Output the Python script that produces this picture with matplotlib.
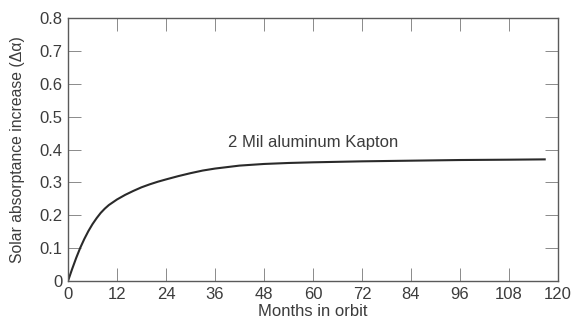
import matplotlib
matplotlib.use('Agg')
from matplotlib import pyplot as plt

# values
months = [0, 1, 2, 3, 4, 5, 6, 7, 8, 9, 10, 12, 14, 16, 18, 20, 22, 24, 27, 30, 33, 36,
          42, 48, 54, 60, 72, 84, 96, 108, 117]
delta_alpha = [0.0, 0.036, 0.070, 0.101, 0.128, 0.152, 0.173, 0.191, 0.207, 0.220, 0.231,
               0.248, 0.262, 0.274, 0.285, 0.294, 0.302, 0.309, 0.319, 0.328, 0.336, 0.342,
               0.351, 0.356, 0.359, 0.361, 0.364, 0.366, 0.368, 0.369, 0.370]
x_ticks = list(range(0, 121, 12))
y_ticks = [0, 0.1, 0.2, 0.3, 0.4, 0.5, 0.6, 0.7, 0.8]
y_labels = ['0', '0.1', '0.2', '0.3', '0.4', '0.5', '0.6', '0.7', '0.8']
series_label = '2 Mil aluminum Kapton'

plt.rcParams['font.family'] = ['Liberation Sans', 'DejaVu Sans']
txt = '#3c3c3c'

fig = plt.figure(figsize=(5.76, 3.25), dpi=100)
ax = fig.add_axes([68 / 576, 1 - 281 / 325, 490 / 576, 263 / 325])

ax.plot(months, delta_alpha, color='#2a2a2a', lw=1.5, solid_capstyle='butt')
ax.text(60, 0.42, series_label, ha='center', va='center', fontsize=12, color=txt)

ax.set_xlim(0, 120)
ax.set_ylim(0, 0.8)
ax.set_xticks(x_ticks)
ax.set_yticks(y_ticks)
ax.set_yticklabels(y_labels)
ax.tick_params(direction='in', top=True, right=True, length=9.5, width=0.7,
               color='#8a8a8a', labelsize=12, labelcolor=txt, pad=4)
for s in ax.spines.values():
    s.set_color('#5a5a5a')
    s.set_linewidth(1.0)

ax.set_xlabel('Months in orbit', fontsize=12, color=txt)
ax.set_ylabel('Solar absorptance increase (\u0394\u03b1)', fontsize=11.3, color=txt)
ax.xaxis.set_label_coords(0.5, -0.088)
ax.yaxis.set_label_coords(-0.088, 0.5)

fig.savefig('out.png', dpi=100)
